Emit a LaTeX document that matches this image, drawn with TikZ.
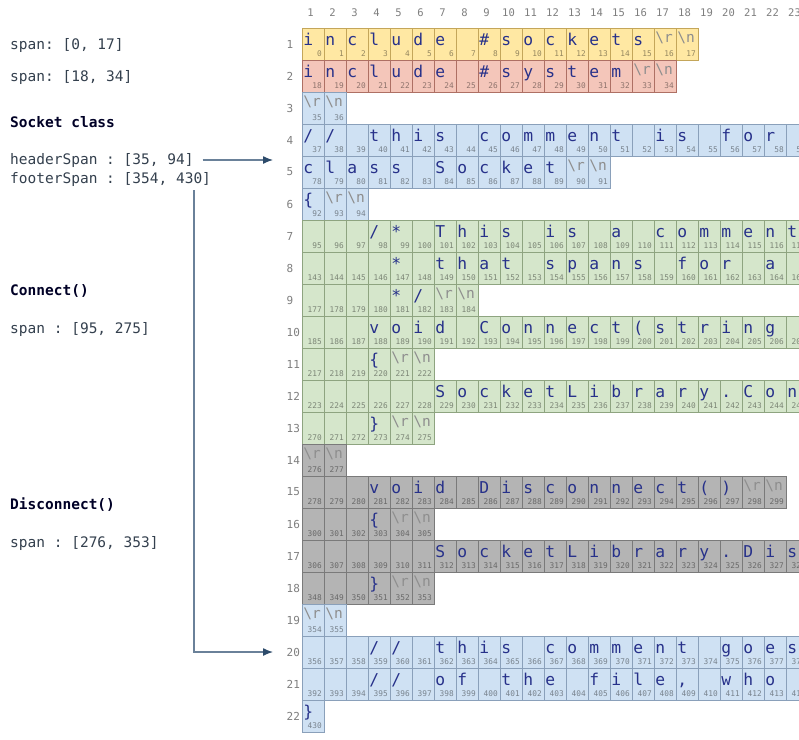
\documentclass[tikz,border=0pt]{standalone}
\usepackage{fontspec}
\setmonofont{DejaVu Sans Mono}
\usetikzlibrary{arrows.meta}
\definecolor{yelF}{HTML}{FFE8A3}\definecolor{yelD}{HTML}{C4A65A}
\definecolor{redF}{HTML}{F4C6BA}\definecolor{redD}{HTML}{AE7064}
\definecolor{bluF}{HTML}{CFE1F3}\definecolor{bluD}{HTML}{8AA0BA}
\definecolor{grnF}{HTML}{D5E6CB}\definecolor{grnD}{HTML}{8EA480}
\definecolor{gryF}{HTML}{B4B4B4}\definecolor{gryD}{HTML}{7A7A7A}
\definecolor{chcol}{HTML}{27318A}
\definecolor{crcol}{HTML}{8E8E8E}
\definecolor{hdrcol}{HTML}{7F7F7F}
\definecolor{labcol}{HTML}{34404E}
\definecolor{arrline}{HTML}{6A8199}
\definecolor{arrhead}{HTML}{2D4B6B}
\newcommand\CR{\raisebox{2.8pt}{\fontsize{14.5}{16}\selectfont\textcolor{crcol}{\textbackslash r}}}
\newcommand\LF{\raisebox{2.8pt}{\fontsize{14.5}{16}\selectfont\textcolor{crcol}{\textbackslash n}}}
\newcommand\LP{(}
\newcommand\RP{)}
\tikzset{
  cellbox/.style={draw, line width=0.9pt, minimum width=22pt, minimum height=32pt, inner sep=0pt, outer sep=0pt},
  ycell/.style={fill=yelF, draw=yelD},
  rcell/.style={fill=redF, draw=redD},
  bcell/.style={fill=bluF, draw=bluD},
  gcell/.style={fill=grnF, draw=grnD},
  kcell/.style={fill=gryF, draw=gryD},
  chr/.style={anchor=base west, inner sep=0pt, text=chcol, font=\ttfamily\fontsize{16.3}{18}\selectfont},
  idx/.style={anchor=base east, inner sep=0pt, text=black, text opacity=0.42, font=\ttfamily\fontsize{7.8}{9}\selectfont},
  hdr/.style={inner sep=0pt, text=hdrcol, font=\ttfamily\fontsize{10.5}{12}\selectfont},
  rowlbl/.style={anchor=west, inner sep=0pt, text=hdrcol, font=\ttfamily\fontsize{11}{12}\selectfont},
  lbl/.style={anchor=west, inner sep=0pt, text=labcol, font=\ttfamily\fontsize{14.5}{16}\selectfont},
  blbl/.style={lbl, font=\ttfamily\bfseries\fontsize{14.5}{16}\selectfont, text=black!85!blue},
  conn/.style={draw=arrline, line width=1.3pt, -{Latex[length=10pt,width=8pt,color=arrhead]}}
}
\newcommand\cellrow[4]{%
  \foreach \cellch [count=\ci from 0] in {#4} {%
    \pgfmathtruncatemacro\X{302+22*\ci}%
    \pgfmathtruncatemacro\Y{28+32*(#1-1)}%
    \node[cellbox,#3] (c#1-\ci) at (\X+11,\Y+16) {};
    \node[chr] (t#1-\ci) at (\X+1.2,\Y+17.5) {\cellch};
    \node[idx] (n#1-\ci) at (\X+20,\Y+28) {\the\numexpr#2+\ci\relax};
  }%
}
\begin{document}
\begin{tikzpicture}[x=1pt,y=-1pt]
\useasboundingbox (0,0) rectangle (799,739);
\fill[white] (0,0) rectangle (799,739);
\begin{scope}
\clip (0,0) rectangle (799,739);
\foreach \hk in {1,...,23} \node[hdr] (h\hk) at ({302+22*\hk-11-2.5},13) {\hk};
\foreach \rk in {1,...,22} \node[rowlbl] (rl\rk) at (286.5,{28+32*(\rk-1)+16}) {\rk};
\cellrow{1}{0}{ycell}{i,n,c,l,u,d,e,{},\#,s,o,c,k,e,t,s,\CR,\LF}
\cellrow{2}{18}{rcell}{i,n,c,l,u,d,e,{},\#,s,y,s,t,e,m,\CR,\LF}
\cellrow{3}{35}{bcell}{\CR,\LF}
\cellrow{4}{37}{bcell}{{/},{/},{},t,h,i,s,{},c,o,m,m,e,n,t,{},i,s,{},f,o,r,{}}
\cellrow{5}{78}{bcell}{c,l,a,s,s,{},S,o,c,k,e,t,\CR,\LF}
\cellrow{6}{92}{bcell}{\{,\CR,\LF}
\cellrow{7}{95}{gcell}{{},{},{},{/},{*},{},T,h,i,s,{},i,s,{},a,{},c,o,m,m,e,n,t}
\cellrow{8}{143}{gcell}{{},{},{},{},{*},{},t,h,a,t,{},s,p,a,n,s,{},f,o,r,{},a,{}}
\cellrow{9}{177}{gcell}{{},{},{},{},{*},{/},\CR,\LF}
\cellrow{10}{185}{gcell}{{},{},{},v,o,i,d,{},C,o,n,n,e,c,t,\LP,s,t,r,i,n,g,{}}
\cellrow{11}{217}{gcell}{{},{},{},\{,\CR,\LF}
\cellrow{12}{223}{gcell}{{},{},{},{},{},{},S,o,c,k,e,t,L,i,b,r,a,r,y,{.},C,o,n}
\cellrow{13}{270}{gcell}{{},{},{},\},\CR,\LF}
\cellrow{14}{276}{kcell}{\CR,\LF}
\cellrow{15}{278}{kcell}{{},{},{},v,o,i,d,{},D,i,s,c,o,n,n,e,c,t,\LP,\RP,\CR,\LF}
\cellrow{16}{300}{kcell}{{},{},{},\{,\CR,\LF}
\cellrow{17}{306}{kcell}{{},{},{},{},{},{},S,o,c,k,e,t,L,i,b,r,a,r,y,{.},D,i,s}
\cellrow{18}{348}{kcell}{{},{},{},\},\CR,\LF}
\cellrow{19}{354}{bcell}{\CR,\LF}
\cellrow{20}{356}{bcell}{{},{},{},{/},{/},{},t,h,i,s,{},c,o,m,m,e,n,t,{},g,o,e,s}
\cellrow{21}{392}{bcell}{{},{},{},{/},{/},{},o,f,{},t,h,e,{},f,i,l,e,{,},{},w,h,o,{}}
\cellrow{22}{430}{bcell}{\}}
\end{scope}
\node[lbl] (sp1) at (10,45) {span: [0, 17]};
\node[lbl] (sp2) at (10,77) {span: [18, 34]};
\node[blbl] (sock) at (10,122) {Socket class};
\node[lbl] (hs) at (10,160) {headerSpan : [35, 94]};
\node[lbl] (fs) at (10,179) {footerSpan : [354, 430]};
\node[blbl] (conn) at (10,291) {Connect()};
\node[lbl] (sp3) at (10,329) {span : [95, 275]};
\node[blbl] (disc) at (10,505) {Disconnect()};
\node[lbl] (sp4) at (10,543) {span : [276, 353]};
\coordinate (a1) at (273,161);
\coordinate (f1) at (194,190);
\coordinate (a2) at (273,652);
\draw[conn] ([xshift=9pt]hs.east) -- (hs.east -| a1);
\draw[conn] (f1) |- (a2);
\end{tikzpicture}
\end{document}
